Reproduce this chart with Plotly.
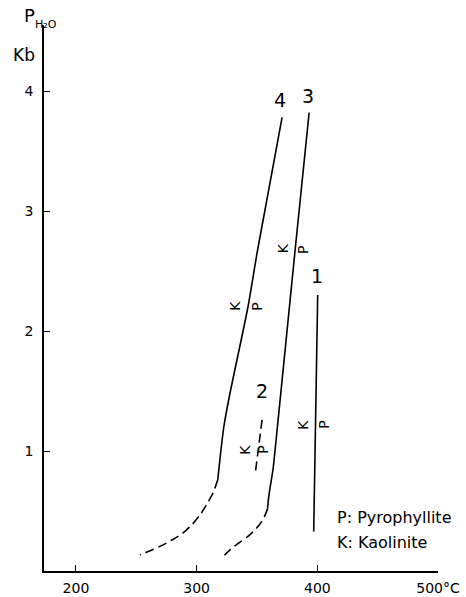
import plotly.graph_objects as go

# Curve 4 (solid part and dashed extrapolation)
c4_solid_T = [317.5, 319.5, 322.5, 327.0, 342.5, 350.5, 370.8]
c4_solid_P = [0.76, 0.95, 1.20, 1.45, 2.20, 2.675, 3.78]
c4_dash_T = [317.5, 314.0, 309.5, 303.0, 296.0, 288.5, 279.5, 269.5, 260.5, 253.0]
c4_dash_P = [0.76, 0.66, 0.575, 0.47, 0.385, 0.315, 0.258, 0.205, 0.165, 0.135]

# Curve 3
c3_solid_T = [393.2, 381.6, 367.5, 363.3, 360.6, 359.4, 358.8]
c3_solid_P = [3.82, 2.675, 1.26, 0.85, 0.68, 0.59, 0.52]
c3_dash_T = [358.8, 356.0, 352.0, 347.0, 341.5, 335.0, 328.0, 321.0]
c3_dash_P = [0.52, 0.45, 0.385, 0.33, 0.28, 0.235, 0.18, 0.11]

# Curve 1
c1_T = [400.3, 397.0]
c1_P = [2.30, 0.33]

# Curve 2 (dashed)
c2_T = [354.2, 348.4]
c2_P = [1.26, 0.80]

# Curve number labels
num_text = ["4", "3", "1", "2"]
num_T = [369.2, 392.4, 399.8, 354.2]
num_P = [3.91, 3.94, 2.44, 1.48]

# K / P side labels
kp_text = ["K", "P", "K", "P", "K", "P", "K", "P"]
kp_T = [331.8, 349.8, 371.6, 388.2, 340.1, 355.0, 387.4, 404.8]
kp_P = [2.21, 2.20, 2.69, 2.675, 1.01, 1.01, 1.22, 1.22]

x_ticks = [200, 300, 400, 500]
x_ticktext = ["200", "300", "400", "500°C"]
y_ticks = [1, 2, 3, 4]

legend_lines = ["P: Pyrophyllite", "K: Kaolinite"]
legend_P = [0.45, 0.24]

FONT = "DejaVu Sans"
W, H = 466, 597
ML, MR, MT, MB = 44, 28, 25, 26
PW, PH = W - ML - MR, H - MT - MB

def px_x(px):
    return (px - ML) / PW

def px_y(py):
    return (H - MB - py) / PH

fig = go.Figure()

def line(x, y, dash=None):
    fig.add_trace(go.Scatter(x=x, y=y, mode="lines", showlegend=False,
                             line=dict(color="black", width=1.6,
                                       dash=dash if dash else "solid",
                                       shape="spline", smoothing=0.7),
                             hoverinfo="skip"))

line(c4_solid_T, c4_solid_P)
line(c4_dash_T, c4_dash_P, "9px,5px")
line(c3_solid_T, c3_solid_P)
line(c3_dash_T, c3_dash_P, "9px,5px")
line(c1_T, c1_P)
line(c2_T, c2_P, "9px,5px")

fig.add_trace(go.Scatter(x=num_T, y=num_P, mode="text", text=num_text,
                         textfont=dict(family=FONT, size=19, color="black"),
                         showlegend=False, hoverinfo="skip"))

for t, xx, yy in zip(kp_text, kp_T, kp_P):
    fig.add_annotation(x=xx, y=yy, text=t, showarrow=False, textangle=-90,
                       xanchor="center", yanchor="middle",
                       font=dict(family=FONT, size=14, color="black"))

for s, yy in zip(legend_lines, legend_P):
    fig.add_annotation(x=414.8, y=yy, text=s, showarrow=False,
                       xanchor="left", yanchor="middle",
                       font=dict(family=FONT, size=16, color="black"))

# Axis title: P_H2O / Kb
fig.add_annotation(xref="paper", yref="paper", x=px_x(22), y=px_y(15),
                   text="P", showarrow=False, xanchor="left", yanchor="middle",
                   font=dict(family=FONT, size=18, color="black"))
fig.add_annotation(xref="paper", yref="paper", x=px_x(33), y=px_y(24),
                   text="H₂O", showarrow=False, xanchor="left", yanchor="middle",
                   font=dict(family=FONT, size=11, color="black"))
fig.add_annotation(xref="paper", yref="paper", x=px_x(11), y=px_y(55),
                   text="Kb", showarrow=False, xanchor="left", yanchor="middle",
                   font=dict(family=FONT, size=17, color="black"))

fig.update_layout(
    width=W, height=H,
    margin=dict(l=ML, r=MR, t=MT, b=MB),
    paper_bgcolor="white", plot_bgcolor="white",
    font=dict(family=FONT, size=14, color="black"),
    xaxis=dict(range=[173.5, 500], tickvals=x_ticks, ticktext=x_ticktext,
               ticks="inside", ticklen=6, tickcolor="black", showgrid=False,
               zeroline=False, showline=True, linecolor="black", linewidth=1.5,
               ticklabelstandoff=3, tickfont=dict(size=14), automargin=False),
    yaxis=dict(range=[0, 4.55], tickvals=y_ticks, ticks="inside", ticklen=6,
               tickcolor="black", showgrid=False, zeroline=False,
               showline=True, linecolor="black", linewidth=1.5,
               ticklabelstandoff=6, tickfont=dict(size=14), automargin=False),
)

fig.write_html("out.html")
